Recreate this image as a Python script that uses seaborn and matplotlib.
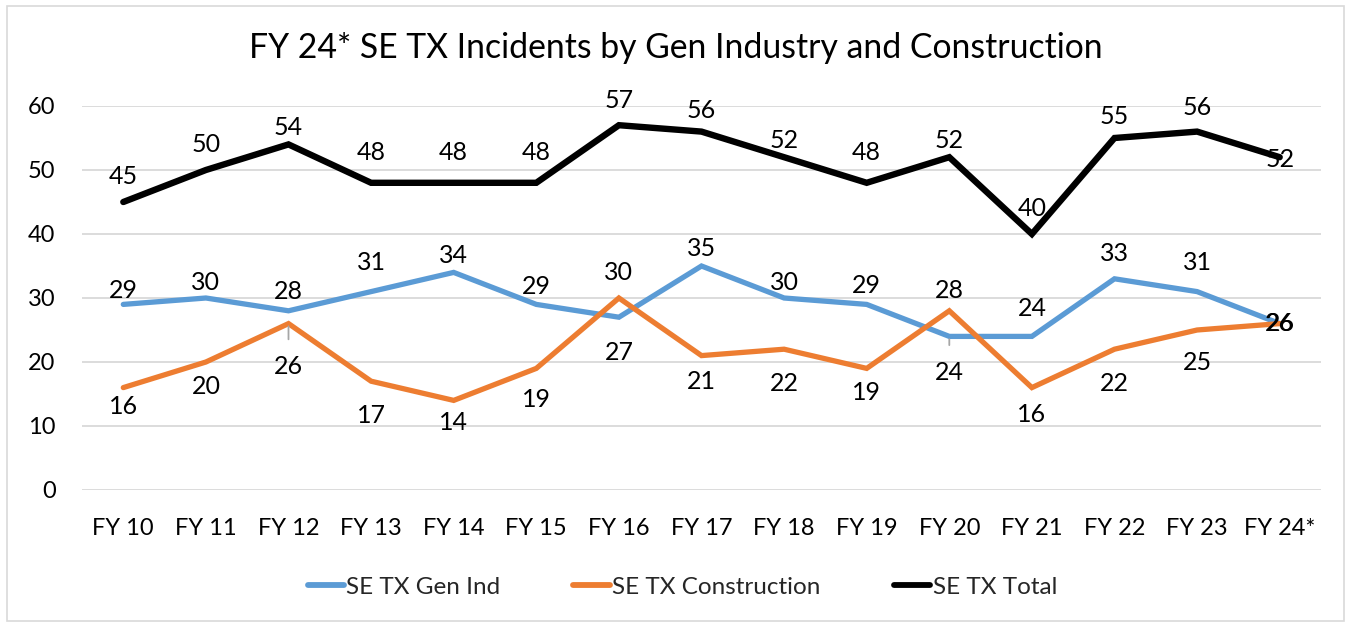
import matplotlib
matplotlib.use("Agg")
import matplotlib.pyplot as plt
import seaborn as sns
import pandas as pd
from matplotlib.patches import Rectangle

categories = ["FY 10", "FY 11", "FY 12", "FY 13", "FY 14", "FY 15", "FY 16", "FY 17",
              "FY 18", "FY 19", "FY 20", "FY 21", "FY 22", "FY 23", "FY 24*"]
gen_ind = [29, 30, 28, 31, 34, 29, 27, 35, 30, 29, 24, 24, 33, 31, 26]
construction = [16, 20, 26, 17, 14, 19, 30, 21, 22, 19, 28, 16, 22, 25, 26]
total = [45, 50, 54, 48, 48, 48, 57, 56, 52, 48, 52, 40, 55, 56, 52]
series_names = ["SE TX Gen Ind", "SE TX Construction", "SE TX Total"]
title = "FY 24* SE TX Incidents by Gen Industry and Construction"

# label vertical offsets (pixels, + above, - below) -- styling only
off_gen = [14, 16, 19, 29, 17, 18, -35, 18, 16, 19, -36, 28, 25, 29, 0]
off_con = [-19, -25, -43, -34, -22, -31, 26, -26, -34, -24, 20, -27, -34, -33, 0]
off_tot = [26, 25, 17, 30, 30, 30, 25, 21, 17, 30, 17, 25, 21, 24, -2]
off_x_con = [0] * 14 + [1]
leader = {("SE TX Construction", 2), ("SE TX Gen Ind", 10)}

sns.set_theme(style="white")
plt.rcParams["font.family"] = ["Lato", "DejaVu Sans"]

df = pd.DataFrame({
    "FY": categories * 3,
    "value": gen_ind + construction + total,
    "series": [series_names[0]] * 15 + [series_names[1]] * 15 + [series_names[2]] * 15,
})
colors = {"SE TX Gen Ind": "#5B9BD5", "SE TX Construction": "#ED7D31", "SE TX Total": "#000000"}

fig = plt.figure(figsize=(13.51, 6.26), dpi=100)
ax = fig.add_axes([82 / 1351, 1 - 490 / 626, (1321 - 82) / 1351, (490 - 106) / 626])

sns.lineplot(data=df, x="FY", y="value", hue="series", palette=colors, sort=False,
             ax=ax, linewidth=3.8, estimator=None)
for line, name in zip(ax.get_lines(), series_names):
    line.set_solid_capstyle("round")
    line.set_solid_joinstyle("miter")
    if name == "SE TX Total":
        line.set_linewidth(4.6)
leg_lines = []

ax.set_ylim(0, 60)
ax.set_xlim(-0.5, len(categories) - 0.5)
ax.set_yticks(range(0, 61, 10))
ax.yaxis.grid(True, color="#D9D9D9", linewidth=1.3)
ax.xaxis.grid(False)
ax.set_axisbelow(True)
for s in ax.spines.values():
    s.set_visible(False)
ax.tick_params(axis="both", length=0, labelsize=17, colors="#000000")
ax.tick_params(axis="x", pad=20)
ax.tick_params(axis="y", pad=19)
ax.set_xlabel("")
ax.set_ylabel("")

px2pt = 72 / 100
label_fs = 18
for name, vals, offs in [("SE TX Gen Ind", gen_ind, off_gen),
                         ("SE TX Construction", construction, off_con),
                         ("SE TX Total", total, off_tot)]:
    for i, (v, o) in enumerate(zip(vals, offs)):
        dx = off_x_con[i] if name == "SE TX Construction" else 0
        kw = {}
        if (name, i) in leader:
            kw["arrowprops"] = dict(arrowstyle="-", color="#A6A6A6", lw=1.3,
                                    shrinkA=9, shrinkB=2)
        ax.annotate(str(v), xy=(i, v), xytext=(dx * px2pt, o * px2pt),
                    textcoords="offset points", ha="center", va="center",
                    fontsize=label_fs, color="#000000", **kw)

fig.text(0.5, 1 - 48 / 626, title, ha="center", va="center", fontsize=24.3, color="#000000")

sns.move_legend(ax, "center", bbox_to_anchor=(0.505, 1 - 587 / 626),
                bbox_transform=fig.transFigure, ncol=3, title=None, frameon=False,
                fontsize=17.5, handlelength=1.5, handletextpad=0.1, columnspacing=3.0)
for lh in ax.get_legend().get_lines():
    lh.set_linewidth(4.2)
    lh.set_solid_capstyle("round")

fig.patches.append(Rectangle((7 / 1351, 5 / 626), 1337 / 1351, 615 / 626,
                             transform=fig.transFigure, fill=False,
                             edgecolor="#D9D9D9", linewidth=1.2))

fig.savefig("out.png", dpi=100)
